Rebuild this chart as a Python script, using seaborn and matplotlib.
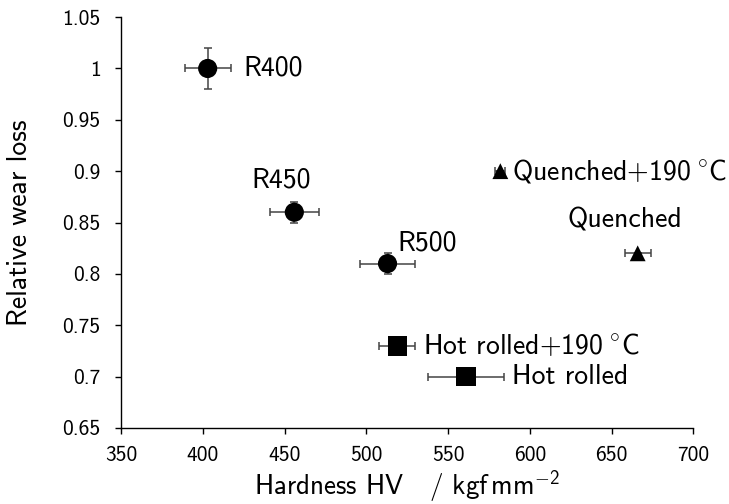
import numpy as np
import pandas as pd
import matplotlib
matplotlib.use("Agg")
import matplotlib.pyplot as plt
import seaborn as sns
from matplotlib.ticker import FuncFormatter

# Données
labels = ["R400", "R450", "R500", "Quenched+190", "Quenched", "Hot rolled+190", "Hot rolled"]
groups = ["rail", "rail", "rail", "quenched", "quenched", "hot", "hot"]
hardness = [403, 456, 513, 582, 666, 519, 561]
hardness_err = [14, 15, 17, 3, 8, 11, 23]
wear = [1.00, 0.86, 0.81, 0.90, 0.82, 0.73, 0.70]
wear_err = [0.02, 0.01, 0.01, 0.0, 0.0, 0.0, 0.0]

texts = ["R400", "R450", "R500", r"Quenched$+$190$\;^{\circ}$C", "Quenched",
         r"Hot rolled$+$190$\;^{\circ}$C", "Hot rolled"]
text_x = [425, 448, 519, 589, 658, 535, 589]
text_y = [1.0, 0.884, 0.823, 0.9, 0.845, 0.73, 0.70]
text_ha = ["left", "center", "left", "left", "center", "left", "left"]
text_va = ["center", "baseline", "baseline", "center", "baseline", "center", "center"]

df = pd.DataFrame({"hardness": hardness, "wear": wear, "group": groups})

sns.set_style("white")
plt.rcParams["font.family"] = ["cmss10", "DejaVu Sans"]
plt.rcParams["mathtext.fontset"] = "custom"
plt.rcParams["mathtext.rm"] = "cmss10"
plt.rcParams["mathtext.it"] = "cmss10"
plt.rcParams["axes.unicode_minus"] = False

fig = plt.figure(figsize=(7.29, 5.04), dpi=100)
ax = fig.add_axes([0.166, 0.151, 0.785, 0.815])

# Barres d'erreur
ax.errorbar(hardness, wear, xerr=hardness_err, yerr=wear_err, fmt="none",
            ecolor="#444444", elinewidth=1.1, capsize=3, capthick=1.1, zorder=2)

# Points
sns.scatterplot(data=df, x="hardness", y="wear", style="group",
                 markers={"rail": "o", "quenched": "^", "hot": "s"},
                 size="group", sizes={"rail": 190, "quenched": 130, "hot": 200},
                 color="black", edgecolor="black", linewidth=0, legend=False,
                 ax=ax, zorder=3)

for t, tx, ty, ha, va in zip(texts, text_x, text_y, text_ha, text_va):
    ax.text(tx, ty, t, ha=ha, va=va, fontsize=20, color="black")

ax.set_xlim(350, 700)
ax.set_ylim(0.65, 1.05)
ax.set_xticks(np.arange(350, 701, 50))
ax.set_yticks(np.arange(0.65, 1.051, 0.05))
ax.yaxis.set_major_formatter(FuncFormatter(lambda v, p: f"{v:g}"))
ax.tick_params(direction="out", length=4.3, width=1, labelsize=15.5, colors="black",
               left=True, bottom=True)
ax.tick_params(axis="x", pad=8.5)
ax.tick_params(axis="y", pad=10.5)

for side in ["top", "right"]:
    ax.spines[side].set_visible(False)
for side in ["left", "bottom"]:
    ax.spines[side].set_color("black")
    ax.spines[side].set_linewidth(1)

ax.set_xlabel(r"Hardness HV   $/$ kgf$\,$mm$^{-2}$", fontsize=19.5, color="black")
ax.set_ylabel("Relative wear loss", fontsize=20, color="black")
ax.xaxis.set_label_coords(0.5, -0.097)
ax.yaxis.set_label_coords(-0.156, 0.5)

plt.savefig("out.png", dpi=100)
plt.close()
